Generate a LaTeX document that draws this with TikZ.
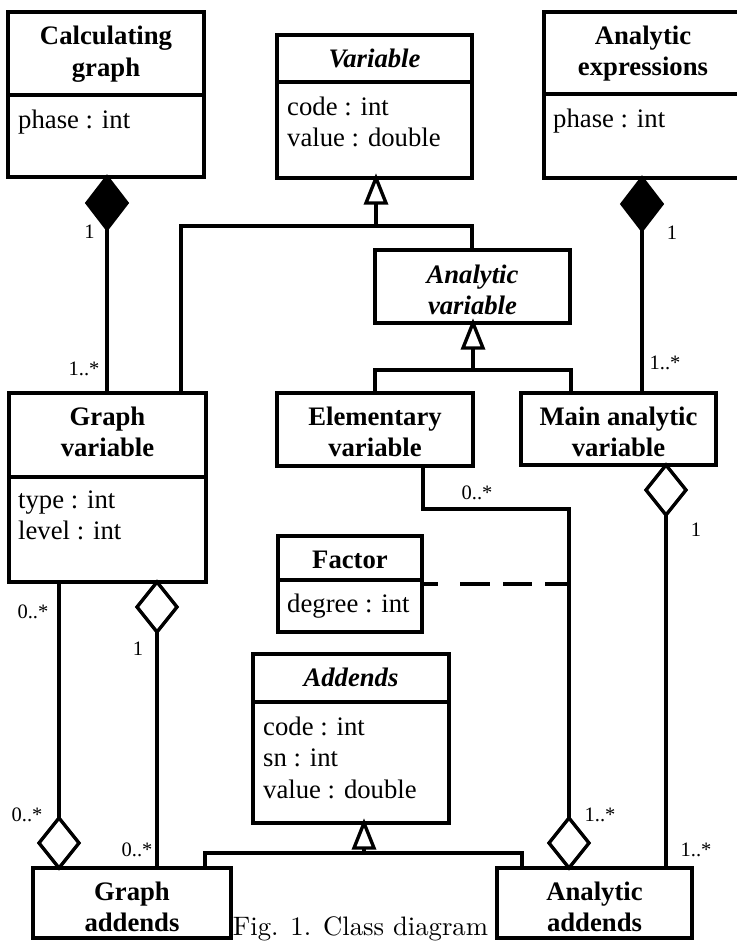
\documentclass[tikz,border=0pt]{standalone}
\usepackage{fontspec}
\newfontfamily\umlfont{Liberation Serif}
\usetikzlibrary{calc}

\tikzset{
  classbox/.style={draw, line width=3.4pt, inner sep=0pt, outer sep=0pt, anchor=north west},
  ttl/.style={font=\umlfont\fontsize{26.7}{31.5}\selectfont\bfseries, align=center, inner sep=0pt},
  absttl/.style={font=\umlfont\fontsize{26.7}{31.5}\selectfont\bfseries\itshape, align=center, inner sep=0pt},
  attr/.style={font=\umlfont\fontsize{26.7}{31.5}\selectfont, align=left, anchor=north west, inner sep=0pt},
  mult/.style={font=\umlfont\fontsize{20.5}{23}\selectfont, inner sep=0pt},
  conn/.style={line width=3.4pt},
  assocdash/.style={line width=3.4pt, dash pattern=on 16pt off 22pt on 30pt off 13pt on 29pt off 13pt on 30pt},
  compdiamond/.pic={\draw[line width=3.4pt, line join=miter, fill=black] (0,0) -- (20,26) -- (0,52) -- (-20,26) -- cycle;},
  aggdiamond/.pic={\draw[line width=3.4pt, line join=miter, fill=white] (0,0) -- (20,25) -- (0,50) -- (-20,25) -- cycle;},
  gentriangle/.pic={\draw[line width=3.4pt, line join=miter, fill=white] (0,0) -- (10,25) -- (-10,25) -- cycle;},
}

\begin{document}
\begin{tikzpicture}[x=1pt, y=-1pt]
\fill[white] (0,0) rectangle (736,941);
\useasboundingbox (0,0) rectangle (736,941);

% ---------- classes ----------
% Calculating graph
\node[classbox, minimum width=196pt, minimum height=165pt] (cg) at (8,12) {};
\draw[conn] (cg.west |- 0,95) -- (cg.east |- 0,95);
\node[ttl] (cgT) at (106,54.45) {\strut Calculating\\\strut graph};
\node[attr] (cgA) at (18,105.95) {\strut phase : int};

% Variable (abstract)
\node[classbox, minimum width=195pt, minimum height=143pt] (var) at (277,35) {};
\draw[conn] (var.west |- 0,82) -- (var.east |- 0,82);
\node[absttl] (varT) at (374.5,61.7) {\strut Variable};
\node[attr] (varA) at (287,92.95) {\strut code : int\\\strut value : double};

% Analytic expressions
\node[classbox, minimum width=198pt, minimum height=166pt] (ae) at (544,12) {};
\draw[conn] (ae.west |- 0,94) -- (ae.east |- 0,94);
\node[ttl] (aeT) at (643,53.5) {\strut Analytic\\\strut expressions};
\node[attr] (aeA) at (553,104.95) {\strut phase : int};

% Analytic variable (abstract)
\node[classbox, minimum width=195pt, minimum height=73pt] (av) at (375,250) {};
\node[absttl] (avT) at (472.5,292.5) {\strut Analytic\\\strut variable};

% Graph variable
\node[classbox, minimum width=197pt, minimum height=189pt] (gv) at (9,393) {};
\draw[conn] (gv.west |- 0,477) -- (gv.east |- 0,477);
\node[ttl] (gvT) at (107.5,434.5) {\strut Graph\\\strut variable};
\node[attr] (gvA) at (18,485.95) {\strut type : int\\\strut level : int};

% Elementary variable
\node[classbox, minimum width=196pt, minimum height=73pt] (ev) at (277,393) {};
\node[ttl] (evT) at (375,434.5) {\strut Elementary\\\strut variable};

% Main analytic variable
\node[classbox, minimum width=195pt, minimum height=72pt] (mav) at (521,393) {};
\node[ttl] (mavT) at (618.5,434.5) {\strut Main analytic\\\strut variable};

% Factor (association class)
\node[classbox, minimum width=144pt, minimum height=96pt] (fac) at (278,536) {};
\draw[conn] (fac.west |- 0,580) -- (fac.east |- 0,580);
\node[ttl] (facT) at (350,561.7) {\strut Factor};
\node[attr] (facA) at (287,589.95) {\strut degree : int};

% Addends (abstract)
\node[classbox, minimum width=196pt, minimum height=169pt] (add) at (253,654) {};
\draw[conn] (add.west |- 0,702) -- (add.east |- 0,702);
\node[absttl] (addT) at (351,679.7) {\strut Addends};
\node[attr] (addA) at (263,712.95) {\strut code : int\\\strut sn : int\\\strut value : double};

% Graph addends
\node[classbox, minimum width=198pt, minimum height=70pt] (ga) at (33,868) {};
\node[ttl] (gaT) at (132,909.5) {\strut Graph\\\strut addends};

% Analytic addends
\node[classbox, minimum width=195pt, minimum height=70pt] (aa) at (497,868) {};
\node[ttl] (aaT) at (594.5,909.5) {\strut Analytic\\\strut addends};

% ---------- generalizations ----------
% Graph variable, Analytic variable -> Variable
\pic at ($(var.south west)+(99,0)$) {gentriangle};
\draw[conn] ($(var.south west)+(99,25)$) -- ($(var.south west)+(99,48)$);
\draw[conn] ($(gv.north west)+(172,0)$) |- ($(av.north west)+(97,-24)$) -- ($(av.north west)+(97,0)$);

% Elementary, Main analytic -> Analytic variable
\pic at ($(av.south west)+(98,0)$) {gentriangle};
\draw[conn] ($(av.south west)+(98,25)$) -- ($(av.south west)+(98,47)$);
\draw[conn] ($(ev.north west)+(98,0)$) |- ($(mav.north west)+(50,-23)$) -- ($(mav.north west)+(50,0)$);

% Graph addends, Analytic addends -> Addends
\pic at ($(add.south west)+(111,0)$) {gentriangle};
\draw[conn] ($(add.south west)+(111,25)$) -- ($(add.south west)+(111,30)$);
\draw[conn] ($(ga.north west)+(172,0)$) |- ($(aa.north west)+(25,-15)$) -- ($(aa.north west)+(25,0)$);

% ---------- compositions ----------
\pic at ($(cg.south west)+(99,0)$) {compdiamond};
\draw[conn] ($(cg.south west)+(99,52)$) -- ($(gv.north west)+(98,0)$);

\pic at ($(ae.south west)+(98,0)$) {compdiamond};
\draw[conn] ($(ae.south west)+(98,52)$) -- ($(mav.north west)+(121,0)$);

% ---------- aggregations / associations ----------
% Graph variable -- Graph addends (left)
\pic at ($(ga.north west)+(26,-50)$) {aggdiamond};
\draw[conn] ($(gv.south west)+(50,0)$) -- ($(ga.north west)+(26,-50)$);

% Graph variable <>-- Graph addends (right)
\pic at ($(gv.south west)+(148,0)$) {aggdiamond};
\draw[conn] ($(gv.south west)+(148,50)$) -- ($(ga.north west)+(124,0)$);

% Elementary variable -- Analytic addends
\coordinate (eaBend) at ($(aa.north west)+(72,-359)$);
\pic at ($(aa.north west)+(72,-50)$) {aggdiamond};
\draw[conn] ($(ev.south west)+(146,0)$) -- ++(0,43) -| ($(aa.north west)+(72,-50)$);

% Factor attached to that association
\draw[assocdash] (fac.east) -- (fac.east -| eaBend);

% Main analytic variable <>-- Analytic addends
\pic at ($(mav.south west)+(145,0)$) {aggdiamond};
\draw[conn] ($(mav.south west)+(145,50)$) -- ($(aa.north west)+(169,0)$);

% ---------- multiplicities ----------
\node[mult] (m1) at (89.5,232) {1};
\node[mult] (m2) at (84,369) {1..*};
\node[mult] (m3) at (672,233) {1};
\node[mult] (m4) at (665,363) {1..*};
\node[mult] (m5) at (477,493) {0..*};
\node[mult] (m6) at (696,530) {1};
\node[mult] (m7) at (33,612) {0..*};
\node[mult] (m8) at (138,649) {1};
\node[mult] (m9) at (27,815) {0..*};
\node[mult] (m10) at (137,850) {0..*};
\node[mult] (m11) at (600,815) {1..*};
\node[mult] (m12) at (696,850) {1..*};

% ---------- caption ----------
\node[anchor=base, inner sep=0pt] (cap) at (360.5,935) {\scalebox{2.67}{Fig. 1. Class diagram}};
\end{tikzpicture}
\end{document}
